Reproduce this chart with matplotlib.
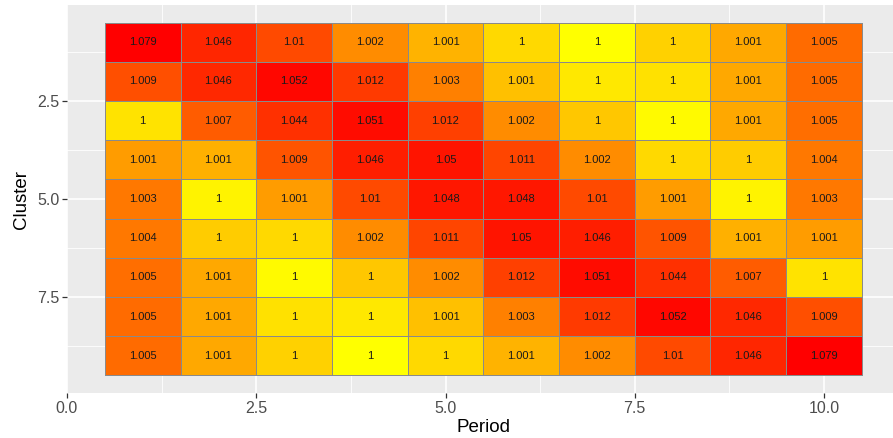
import numpy as np
import matplotlib
matplotlib.use("Agg")
import matplotlib.pyplot as plt
from matplotlib.colors import LinearSegmentedColormap
from matplotlib.ticker import MultipleLocator, FormatStrFormatter

periods = np.arange(1, 11)
clusters = np.arange(1, 10)

# value shown in each tile (rows = cluster 1..9, cols = period 1..10)
values = [
    ["1.079", "1.046", "1.01", "1.002", "1.001", "1", "1", "1", "1.001", "1.005"],
    ["1.009", "1.046", "1.052", "1.012", "1.003", "1.001", "1", "1", "1.001", "1.005"],
    ["1", "1.007", "1.044", "1.051", "1.012", "1.002", "1", "1", "1.001", "1.005"],
    ["1.001", "1.001", "1.009", "1.046", "1.05", "1.011", "1.002", "1", "1", "1.004"],
    ["1.003", "1", "1.001", "1.01", "1.048", "1.048", "1.01", "1.001", "1", "1.003"],
    ["1.004", "1", "1", "1.002", "1.011", "1.05", "1.046", "1.009", "1.001", "1.001"],
    ["1.005", "1.001", "1", "1", "1.002", "1.012", "1.051", "1.044", "1.007", "1"],
    ["1.005", "1.001", "1", "1", "1.001", "1.003", "1.012", "1.052", "1.046", "1.009"],
    ["1.005", "1.001", "1", "1", "1", "1.001", "1.002", "1.01", "1.046", "1.079"],
]

# fill level (0 = red, 1 = yellow)
fill_level = [
    [0.00, 0.15, 0.29, 0.55, 0.70, 0.85, 1.00, 0.82, 0.66, 0.42],
    [0.31, 0.16, 0.03, 0.23, 0.50, 0.75, 0.91, 0.88, 0.66, 0.42],
    [0.89, 0.36, 0.19, 0.05, 0.25, 0.55, 0.78, 0.98, 0.66, 0.43],
    [0.61, 0.69, 0.33, 0.12, 0.08, 0.27, 0.55, 0.85, 0.80, 0.47],
    [0.47, 0.95, 0.61, 0.29, 0.09, 0.09, 0.29, 0.61, 0.95, 0.47],
    [0.47, 0.80, 0.85, 0.55, 0.27, 0.08, 0.12, 0.33, 0.69, 0.61],
    [0.43, 0.66, 0.98, 0.78, 0.55, 0.25, 0.05, 0.19, 0.36, 0.89],
    [0.42, 0.66, 0.88, 0.91, 0.75, 0.50, 0.23, 0.03, 0.16, 0.31],
    [0.42, 0.66, 0.82, 1.00, 0.85, 0.70, 0.55, 0.29, 0.15, 0.00],
]

plt.rcParams['font.family'] = ['Liberation Sans', 'DejaVu Sans']

heat = LinearSegmentedColormap.from_list("heat", ["#FF0000", "#FF8000", "#FFFF00"])

fig = plt.figure(figsize=(8.93, 4.38), dpi=100)
ax = fig.add_axes([67 / 893, 45 / 438, 832.7 / 893, 388 / 438])
ax.set_facecolor("#EBEBEB")

xe = np.append(periods - 0.5, periods[-1] + 0.5)
ye = np.append(clusters - 0.5, clusters[-1] + 0.5)
ax.pcolormesh(xe, ye, np.array(fill_level), cmap=heat, vmin=0, vmax=1,
              edgecolors="#8A8A8A", linewidth=0.6, zorder=2)

for i, c in enumerate(clusters):
    for j, p in enumerate(periods):
        ax.text(p, c, values[i][j], ha="center", va="center",
                fontsize=8, color="#1A1A1A", zorder=3)

ax.set_xlim(0, 11)
ax.set_ylim(9.95, 0.05)

ax.xaxis.set_major_locator(MultipleLocator(2.5))
ax.xaxis.set_minor_locator(MultipleLocator(1.25))
ax.yaxis.set_major_locator(MultipleLocator(2.5))
ax.yaxis.set_minor_locator(MultipleLocator(1.25))
ax.xaxis.set_major_formatter(FormatStrFormatter("%.1f"))
ax.yaxis.set_major_formatter(FormatStrFormatter("%.1f"))

ax.grid(True, which="major", color="white", linewidth=1.2, zorder=0)
ax.grid(True, which="minor", color="white", linewidth=0.6, zorder=0)
ax.set_axisbelow(True)

ax.tick_params(which="major", length=3.6, width=0.9, color="#333333",
               labelcolor="#4D4D4D", labelsize=11.5, pad=2)
ax.tick_params(which="minor", length=0)
for s in ax.spines.values():
    s.set_visible(False)

ax.set_xlabel("Period", fontsize=13.5, labelpad=2)
ax.set_ylabel("Cluster", fontsize=13.5, labelpad=5)

fig.savefig("out.png", dpi=100)
